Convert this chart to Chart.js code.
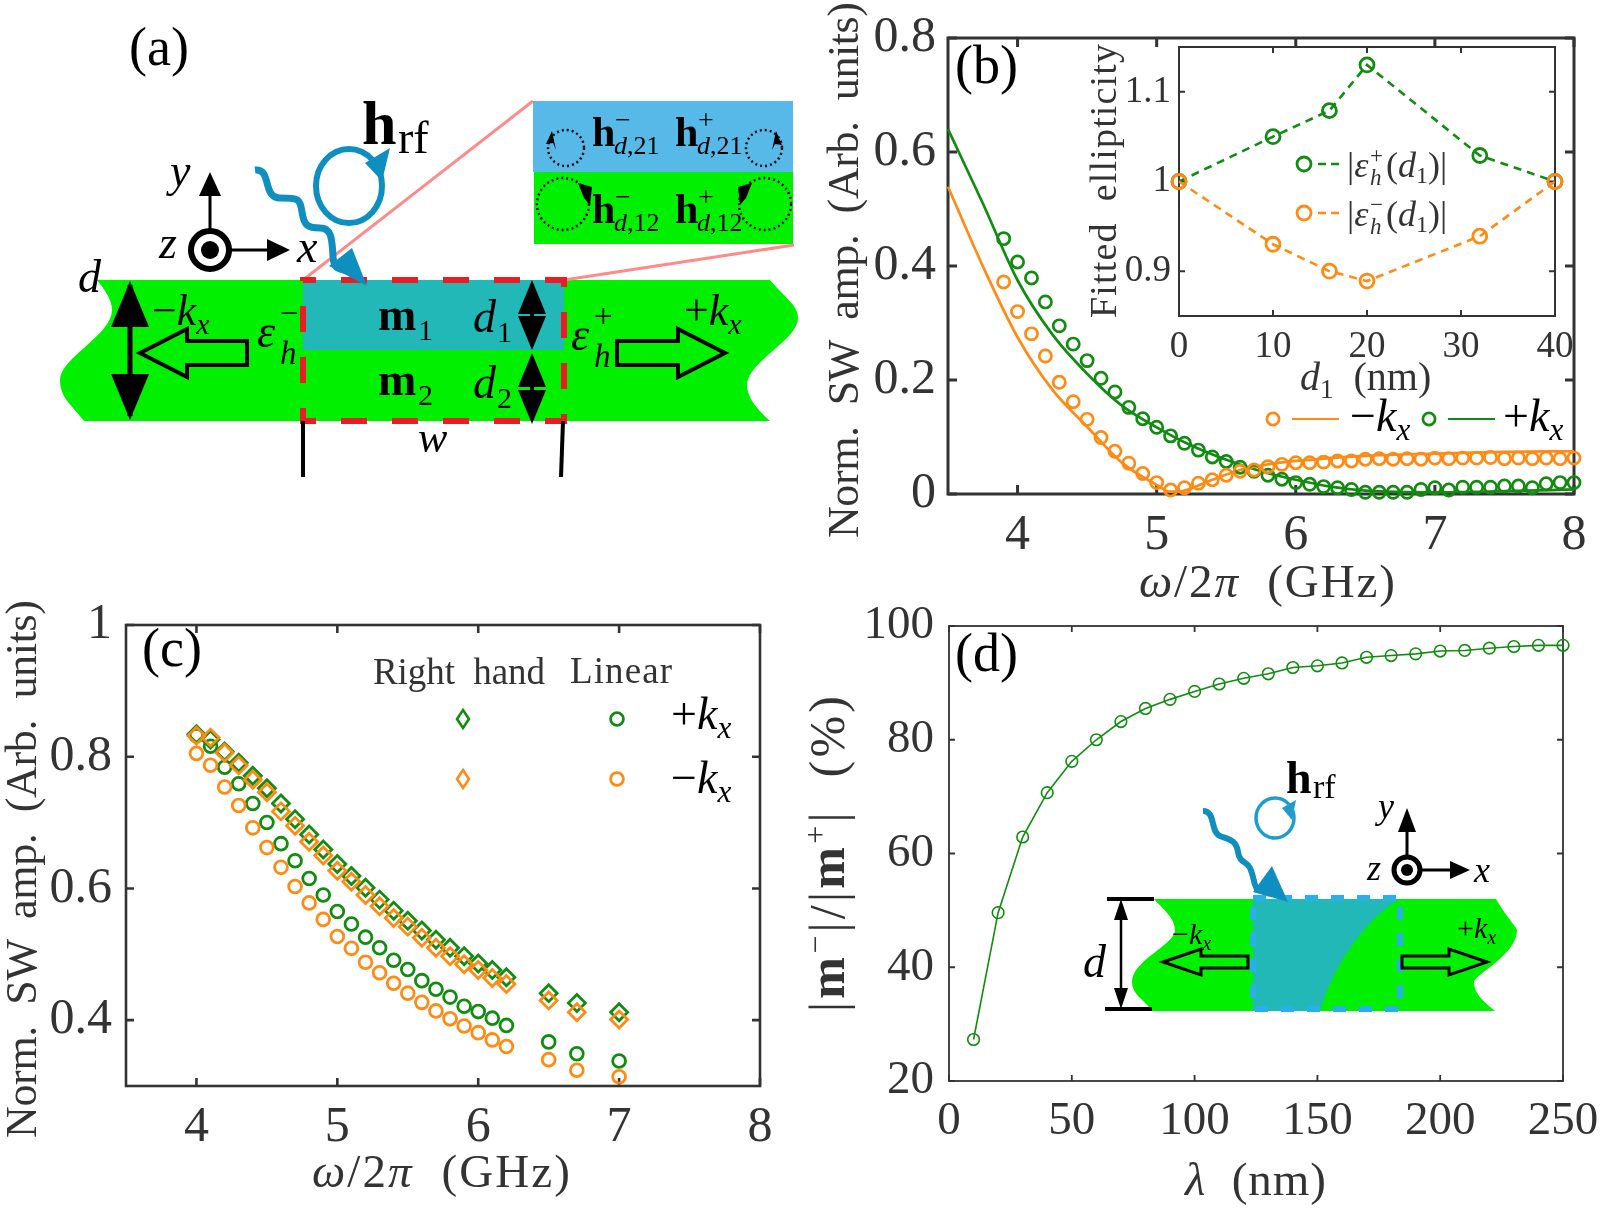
<!DOCTYPE html>
<html>
<head>
<meta charset="utf-8">
<script src="https://cdn.jsdelivr.net/npm/chart.js@4"></script>
<style>
html,body{margin:0;padding:0;background:#fff;}
#page{position:relative;width:1600px;height:1210px;overflow:hidden;}
canvas{position:absolute;}
#overlay{position:absolute;left:0;top:0;font-family:'Liberation Serif',serif;}
</style>
</head>
<body>
<div id="page">
  <canvas id="chartB" width="800" height="600" style="left:800px;top:0"></canvas>
  <canvas id="chartInset" width="470" height="370" style="left:1110px;top:10px"></canvas>
  <canvas id="chartC" width="790" height="630" style="left:0;top:580px"></canvas>
  <canvas id="chartD" width="840" height="630" style="left:800px;top:580px"></canvas>
  <svg id="overlay" width="1600" height="1210" xmlns="http://www.w3.org/2000/svg"></svg>
</div>
<script>
const GREEN='#118c11', ORANGE='#ff8a14', INK='#333333';

// panel (b)
const bFreq=[3.9,4,4.1,4.2,4.3,4.4,4.5,4.6,4.7,4.8,4.9,5,5.1,5.2,5.3,5.4,5.5,5.6,5.7,5.8,5.9,6,6.1,6.2,6.3,6.4,6.5,6.6,6.7,6.8,6.9,7,7.1,7.2,7.3,7.4,7.5,7.6,7.7,7.8,7.9,8];
const bGreenDots=[.448,.407,.379,.337,.295,.263,.234,.203,.179,.152,.132,.117,.102,.089,.077,.065,.057,.047,.04,.033,.026,.02,.017,.013,.011,.008,.003,.003,.003,.003,.008,.011,.007,.012,.012,.012,.014,.014,.011,.018,.02,.02];
const bOrangeDots=[.372,.32,.281,.242,.196,.162,.131,.099,.075,.054,.036,.02,.007,.011,.019,.025,.033,.04,.042,.048,.052,.055,.055,.056,.058,.058,.061,.062,.061,.062,.061,.063,.062,.063,.063,.064,.062,.063,.062,.063,.062,.063];
const bGreenFreq=[3.5,3.75,4,4.25,4.5,4.75,5,5.25,5.5,5.75,6,6.25,6.5,7,7.5,8];
const bGreenFit=[.64,.51,.375,.28,.211,.155,.117,.085,.06,.04,.025,.013,.006,.003,.005,.008];
const bOrangeFreq=[3.5,3.75,4,4.25,4.5,4.75,5,5.1,5.2,5.4,5.6,5.8,6,6.5,7,7.5,8];
const bOrangeFit=[.539,.4,.275,.183,.118,.055,.016,.004,.006,.025,.042,.052,.058,.067,.071,.074,.075];
const bTicksX=[4,5,6,7,8], bTicksY=[0,.2,.4,.6,.8];

// inset of (b)
const insetD1=[0,10,16,20,32,40];
const insetPlus=[1,1.05,1.079,1.13,1.029,1];
const insetMinus=[1,.93,.9,.889,.939,1];
const insetTicksX=[0,10,20,30,40], insetTicksY=[.9,1,1.1];

// panel (c)
const cFreq=[4,4.1,4.2,4.3,4.4,4.5,4.6,4.7,4.8,4.9,5,5.1,5.2,5.3,5.4,5.5,5.6,5.7,5.8,5.9,6,6.1,6.2,6.5,6.7,7];
const cLinearPlus=[.832,.816,.784,.759,.729,.7,.668,.642,.615,.59,.565,.546,.526,.51,.491,.477,.46,.447,.435,.421,.413,.403,.392,.367,.349,.338];
const cLinearMinus=[.805,.787,.754,.726,.692,.662,.632,.603,.578,.553,.527,.509,.488,.472,.456,.441,.427,.414,.402,.391,.381,.37,.36,.34,.324,.314];
const cRightPlus=[.834,.826,.808,.791,.771,.752,.729,.705,.682,.659,.637,.619,.601,.583,.566,.551,.536,.522,.51,.497,.486,.476,.465,.441,.426,.412];
const cRightMinus=[.832,.829,.806,.787,.765,.746,.717,.695,.671,.65,.627,.61,.59,.573,.555,.542,.525,.51,.497,.485,.476,.464,.455,.43,.412,.401];
const cTicksX=[4,5,6,7,8], cTicksY=[.4,.6,.8,1];

// panel (d)
const dLambda=[10,20,30,40,50,60,70,80,90,100,110,120,130,140,150,160,170,180,190,200,210,220,230,240,250];
const dRatio=[27.3,49.6,62.9,70.7,76.2,80,83.2,85.5,87.1,88.5,89.8,90.8,91.6,92.7,93,93.5,94.5,94.8,95.1,95.6,95.7,96.1,96.4,96.6,96.6];
const dTicksX=[0,50,100,150,200,250], dTicksY=[20,40,60,80,100];

function pts(xs,ys){return xs.map((x,i)=>({x,y:ys[i]}));}

// boxed axes with inward ticks on all four sides
const frameBox={
  id:'frameBox',
  beforeDatasetsDraw(chart,args,o){
    const {ctx,chartArea:a,scales:{x,y}}=chart;
    ctx.save();
    ctx.strokeStyle=INK;
    ctx.lineWidth=o.tickWidth;
    ctx.beginPath();
    x.ticks.forEach(t=>{const p=x.getPixelForValue(t.value);
      ctx.moveTo(p,a.bottom);ctx.lineTo(p,a.bottom-o.tickLen);
      ctx.moveTo(p,a.top);ctx.lineTo(p,a.top+o.tickLen);});
    y.ticks.forEach(t=>{const p=y.getPixelForValue(t.value);
      ctx.moveTo(a.left,p);ctx.lineTo(a.left+o.tickLen,p);
      ctx.moveTo(a.right,p);ctx.lineTo(a.right-o.tickLen,p);});
    ctx.stroke();
    ctx.lineWidth=o.lineWidth;
    ctx.strokeRect(a.left,a.top,a.right-a.left,a.bottom-a.top);
    ctx.restore();
  }
};

function axis(min,max,ticks,fontSize,pad,size,isX){
  return {
    type:'linear',min,max,
    grid:{display:false},border:{display:false},
    afterBuildTicks:s=>{s.ticks=ticks.map(v=>({value:v}));},
    afterFit:s=>{if(isX)s.height=size;else s.width=size;},
    ticks:{autoSkip:false,maxRotation:0,padding:pad,color:INK,
      font:{family:"'Liberation Serif'",size:fontSize},
      callback:v=>String(v)}
  };
}
function makeChart(id,box,canvasW,xAxis,yAxis,datasets,frame){
  return new Chart(document.getElementById(id),{
    type:'scatter',
    data:{datasets},
    plugins:[frameBox],
    options:{
      responsive:false,animation:false,
      layout:{padding:{left:0,top:box.top,right:canvasW-box.right,bottom:0}},
      plugins:{legend:{display:false},tooltip:{enabled:false},frameBox:frame},
      scales:{x:xAxis,y:yAxis}
    }
  });
}
function dots(xs,ys,color,radius,width,style){
  return {data:pts(xs,ys),showLine:false,clip:false,pointStyle:style||'circle',pointRadius:radius,
    pointBorderWidth:width,pointBorderColor:color,pointBackgroundColor:'transparent'};
}
function curve(xs,ys,color,width){
  return {data:pts(xs,ys),showLine:true,cubicInterpolationMode:'monotone',pointRadius:0,borderColor:color,borderWidth:width,clip:false};
}

makeChart('chartB',{top:38,right:774},800,
  axis(3.5,8,bTicksX,50,4,106,true),axis(0,.8,bTicksY,50,4,148,false),
  [dots(bFreq,bOrangeDots,ORANGE,6.1,2.7),dots(bFreq,bGreenDots,GREEN,6.1,2.7),
   curve(bOrangeFreq,bOrangeFit,ORANGE,2.7),curve(bGreenFreq,bGreenFit,GREEN,2.7)],
  {lineWidth:3,tickLen:9,tickWidth:3});

makeChart('chartInset',{top:37,right:445},470,
  axis(0,40,insetTicksX,37,1,64,true),axis(.85,1.15,insetTicksY,37,0,69,false),
  [Object.assign(dots(insetD1,insetMinus,ORANGE,7,2.8),{showLine:true,borderColor:ORANGE,borderWidth:2.6,borderDash:[8,6]}),
   Object.assign(dots(insetD1,insetPlus,GREEN,7,2.8),{showLine:true,borderColor:GREEN,borderWidth:2.6,borderDash:[8,6]})],
  {lineWidth:2,tickLen:6,tickWidth:2});

makeChart('chartC',{top:45,right:760},790,
  axis(3.5,8,cTicksX,50,4,124,true),axis(.3,1,cTicksY,50,6,126,false),
  [dots(cFreq,cRightMinus,ORANGE,8.5,2.8,'rectRot'),dots(cFreq,cRightPlus,GREEN,8.5,2.8,'rectRot'),
   dots(cFreq,cLinearMinus,ORANGE,6.4,2.8),dots(cFreq,cLinearPlus,GREEN,6.4,2.8)],
  {lineWidth:2.6,tickLen:8,tickWidth:2.6});

makeChart('chartD',{top:46,right:763},840,
  axis(0,250,dTicksX,47,4,129,true),axis(20,100,dTicksY,47,7,149,false),
  [Object.assign(dots(dLambda,dRatio,GREEN,5.8,1.6),{showLine:true,borderColor:GREEN,borderWidth:1.6})],
  {lineWidth:1.8,tickLen:6,tickWidth:1.8});

// text and schematics
const I=s=>`<tspan font-style="italic">${s}</tspan>`;
const B=s=>`<tspan font-weight="bold">${s}</tspan>`;
function T(x,y,size,body,extra){return `<text x="${x}" y="${y}" font-size="${size}" ${extra||''}>${body}</text>`;}
function kx(x,y,size,sign){
  return T(x,y,size,`${sign}${I('k')}<tspan font-size="${size*.68}" font-style="italic" dy="${size*.2}">x</tspan>`);
}
function supSub(x,y,size,base,sup,sub){
  return T(x,y,size,base)+T(x+size*.5,y-size*.5,size*.72,sup)+T(x+size*.5,y+size*.36,size*.72,sub,'font-style="italic"');
}
function poly(p,fill,stroke,sw){return `<polygon points="${p}" fill="${fill}" stroke="${stroke||'none'}" stroke-width="${sw||0}"/>`;}
function line(a,b,c,d,col,w,extra){return `<line x1="${a}" y1="${b}" x2="${c}" y2="${d}" stroke="${col}" stroke-width="${w}" ${extra||''}/>`;}
function vDouble(x,y1,y2,head,half,w){
  return line(x,y1+4,x,y2-4,'#000',w)+poly(`${x},${y1} ${x-half},${y1+head} ${x+half},${y1+head}`,'#000')+poly(`${x},${y2} ${x-half},${y2-head} ${x+half},${y2-head}`,'#000');
}
function hollowArrow(tip,neck,end,y,sh,hh,sw){
  return poly(`${tip},${y} ${neck},${y-hh} ${neck},${y-sh} ${end},${y-sh} ${end},${y+sh} ${neck},${y+sh} ${neck},${y+hh}`,'none','#000',sw);
}

let g='';
// axis titles
g+=T(0,0,44,'Norm.  SW  amp.  (Arb.  units)','transform="translate(858,538) rotate(-90)" fill="#333" textLength="536" style="white-space:pre"');
g+=T(1139,597,47,`${I('ω')}/2${I('π')}  (GHz)`,`fill="#333" textLength="256" style="white-space:pre"`);
g+=T(0,0,38,'Fitted  ellipticity','transform="translate(1116,318) rotate(-90)" fill="#333" textLength="274" style="white-space:pre"');
g+=T(1300,390,40,`${I('d')}<tspan font-size="27" dy="8">1</tspan><tspan dy="-8">  (nm)</tspan>`,'fill="#333" style="white-space:pre"');
g+=T(0,0,44,'Norm.  SW  amp.  (Arb.  units)','transform="translate(36,1138) rotate(-90)" fill="#333" textLength="538" style="white-space:pre"');
g+=T(312,1187,47,`${I('ω')}/2${I('π')}  (GHz)`,`fill="#333" textLength="258" style="white-space:pre"`);
g+=T(1185,1195,47,`${I('λ')}  (nm)`,'fill="#333" textLength="141" style="white-space:pre"');
g+=T(0,0,50,`|${B('m')}<tspan font-size="32" dy="-18">−</tspan><tspan dy="18">|/|</tspan>${B('m')}<tspan font-size="32" dy="-18">+</tspan><tspan dy="18">|  (%)</tspan>`,'transform="translate(844,1012) rotate(-90)" fill="#333" textLength="316" style="white-space:pre"');
// panel tags
g+=T(129,65,54,'(a)')+T(955,83,54,'(b)')+T(142,666,54,'(c)')+T(955,671,54,'(d)');

// legend of (b)
g+=`<circle cx="1273" cy="419" r="6.1" fill="none" stroke="${ORANGE}" stroke-width="2.7"/>`+line(1292,419,1339,419,ORANGE,2);
g+=kx(1350,431,46,'−');
g+=`<circle cx="1429" cy="419" r="6.1" fill="none" stroke="${GREEN}" stroke-width="2.7"/>`+line(1448,419,1495,419,GREEN,2);
g+=kx(1503,431,46,'+');
// legend of inset
[[164,'+',GREEN],[213,'−',ORANGE]].forEach(([y,s,c])=>{
  g+=`<circle cx="1304" cy="${y}" r="7" fill="none" stroke="${c}" stroke-width="2.8"/>`+line(1318,y,1341,y,c,2.6,'stroke-dasharray="8 5"');
  g+=T(1347,y+13,36,`|${I('ε')}`,'fill="#333"')+T(1370,y-1,23,s,'fill="#333"')+T(1370,y+21,23,'h','font-style="italic" fill="#333"')+T(1386,y+13,36,`(${I('d')}<tspan font-size="24" dy="6">1</tspan><tspan dy="-6">)|</tspan>`,'fill="#333"');
});
// legend of (c)
g+=T(373,684,37,'Right  hand','fill="#333" textLength="172" style="white-space:pre"')+T(570,683,37,'Linear','fill="#333" textLength="102"');
[[719,GREEN],[779,ORANGE]].forEach(([y,c])=>{
  g+=poly(`463,${y-9} 469,${y} 463,${y+9} 457,${y}`,'none',c,2.6);
  g+=`<circle cx="617" cy="${y}" r="6.4" fill="none" stroke="${c}" stroke-width="2.8"/>`;
});
g+=kx(671,729,46,'+')+kx(671,793,46,'−');

// schematic (a)
g+=`<path d="M97 280 L770 280 C785 298 798 305 798 318 C798 340 747 362 747 385 C747 398 758 410 770 421 L84 421 C72 405 60 398 60 380 C60 358 112 335 112 310 C112 300 105 290 97 280Z" fill="#00f000"/>`;
g+=`<rect x="303" y="280" width="261" height="70" fill="#22b8b8"/>`;
g+=line(303,280,533,101,'#ff8a8a',3)+line(564,280,794,245,'#ff8a8a',3);
g+=`<rect x="303" y="280" width="261" height="141" fill="none" stroke="#ec1c24" stroke-width="6" stroke-dasharray="26 25" stroke-dashoffset="13"/>`;
g+=`<rect x="533" y="101" width="260" height="71" fill="#56b9e8"/><rect x="534" y="172" width="259" height="72" fill="#00f000"/>`;
const dotted='fill="none" stroke="#000" stroke-width="2.4" stroke-dasharray="2 3"';
g+=`<circle cx="566" cy="148" r="18" ${dotted}/><circle cx="764" cy="148" r="18" ${dotted}/><circle cx="563" cy="204" r="26" ${dotted}/><circle cx="765" cy="204" r="26" ${dotted}/>`;
g+=poly('552,131 546,144 553,143 556,150','#000')+poly('776,131 782,145 775,144 772,150','#000')+poly('578,183 592,187 590,205 584,198','#000')+poly('752,183 738,187 740,205 746,198','#000');
[[592,146,'−','21'],[675,146,'+','21'],[592,223,'−','12'],[675,223,'+','12']].forEach(([x,y,s,u])=>{
  g+=T(x,y,42,B('h'))+T(x+23,y-17,28,s)+T(x+22,y+8,26,`${I('d')},${u}`);
});
g+=line(210,250,210,190,'#000',3)+poly('210,172 199,196 221,196','#000')+line(210,250,270,250,'#000',3)+poly('290,250 267,239 267,261','#000');
g+=`<circle cx="210" cy="250" r="19" fill="#fff" stroke="#000" stroke-width="6"/><circle cx="210" cy="250" r="9" fill="#000"/>`;
g+=T(170,186,46,'y','font-style="italic"')+T(159,258,46,'z','font-style="italic"')+T(297,262,46,'x','font-style="italic"')+T(78,292,46,'d','font-style="italic"');
g+=T(362,144,62,B('h'))+T(398,153,46,'rf');
g+=`<ellipse cx="349" cy="186" rx="33" ry="37" fill="none" stroke="#0f8fc0" stroke-width="6"/>`+poly('390,148 365,163 382,181','#0f8fc0');
g+=`<path d="M255 170 C272 168 262 198 280 198 S300 198 302 212 S308 228 320 228 S332 240 333 256 S340 268 352 272" fill="none" stroke="#0f8fc0" stroke-width="7"/>`+poly('367,286 352,248 329,266','#0f8fc0');
g+=vDouble(130,281,420,46,19,5);
g+=kx(152,325,44,'−')+kx(684,325,44,'+');
g+=hollowArrow(140,187,247,353,12,24,4)+hollowArrow(725,678,617,353,12,24,4);
g+=supSub(257,347,46,I('ε'),'−','h')+supSub(571,350,46,I('ε'),'+','h');
g+=T(378,330,46,B('m'))+T(418,340,30,'1')+T(378,395,46,B('m'))+T(418,405,30,'2');
g+=T(473,332,46,I('d'))+T(497,342,30,'1')+T(473,398,46,I('d'))+T(497,408,30,'2');
g+=vDouble(532,280,350,34,14,4)+vDouble(532,353,424,34,14,4);
g+=T(418,452,44,'w','font-style="italic"');
g+=line(303,421,303,477,'#000',4)+line(563,421,561,477,'#000',4);

// schematic inset of (d)
g+=`<path d="M1154 899 L1496 899 C1505 915 1517 928 1517 930 C1517 955 1474 975 1474 982 C1474 995 1486 1003 1495 1011 L1152 1011 C1145 1000 1132 995 1132 982 C1132 960 1175 945 1175 930 C1175 918 1162 908 1154 899Z" fill="#00f000"/>`;
g+=`<path d="M1253 899 L1400 899 C1370 915 1335 960 1320 1011 L1253 1011Z" fill="#22b8b8"/>`;
g+=`<rect x="1253" y="898" width="147" height="111" fill="none" stroke="#2ab0e8" stroke-width="6" stroke-dasharray="13 13"/>`;
g+=line(1107,899,1154,899,'#000',4)+line(1105,1009,1152,1009,'#000',4);
g+=line(1121,905,1121,1003,'#000',2.5)+poly('1121,899 1114,920 1128,920','#000')+poly('1121,1009 1114,988 1128,988','#000');
g+=T(1083,977,46,'d','font-style="italic"');
g+=hollowArrow(1163,1201,1248,962,6,13,3)+hollowArrow(1487,1449,1402,962,6,13,3);
g+=kx(1172,944,30,'−')+kx(1457,938,30,'+');
g+=line(1407,870,1407,825,'#000',3)+poly('1407,808 1398,832 1416,832','#000')+line(1407,870,1465,870,'#000',3)+poly('1470,870 1450,861 1450,879','#000');
g+=`<circle cx="1407" cy="870" r="13" fill="#fff" stroke="#000" stroke-width="5"/><circle cx="1407" cy="870" r="6" fill="#000"/>`;
g+=T(1378,818,36,'y','font-style="italic"')+T(1367,880,36,'z','font-style="italic"')+T(1474,882,36,'x','font-style="italic"');
g+=T(1286,793,46,B('h'))+T(1313,798,34,'rf');
g+=`<ellipse cx="1275" cy="818" rx="19" ry="20" fill="none" stroke="#1c9ccf" stroke-width="3.5"/>`+poly('1296,800 1282,808 1292,820','#1c9ccf');
g+=`<path d="M1203 811 C1216 811 1210 832 1220 836 S1236 840 1238 852 S1246 860 1250 868 S1254 888 1258 890" fill="none" stroke="#0f8fc0" stroke-width="6"/>`+poly('1288,902 1272,866 1253,892','#0f8fc0');

document.getElementById('overlay').innerHTML=g;
</script>
</body>
</html>
